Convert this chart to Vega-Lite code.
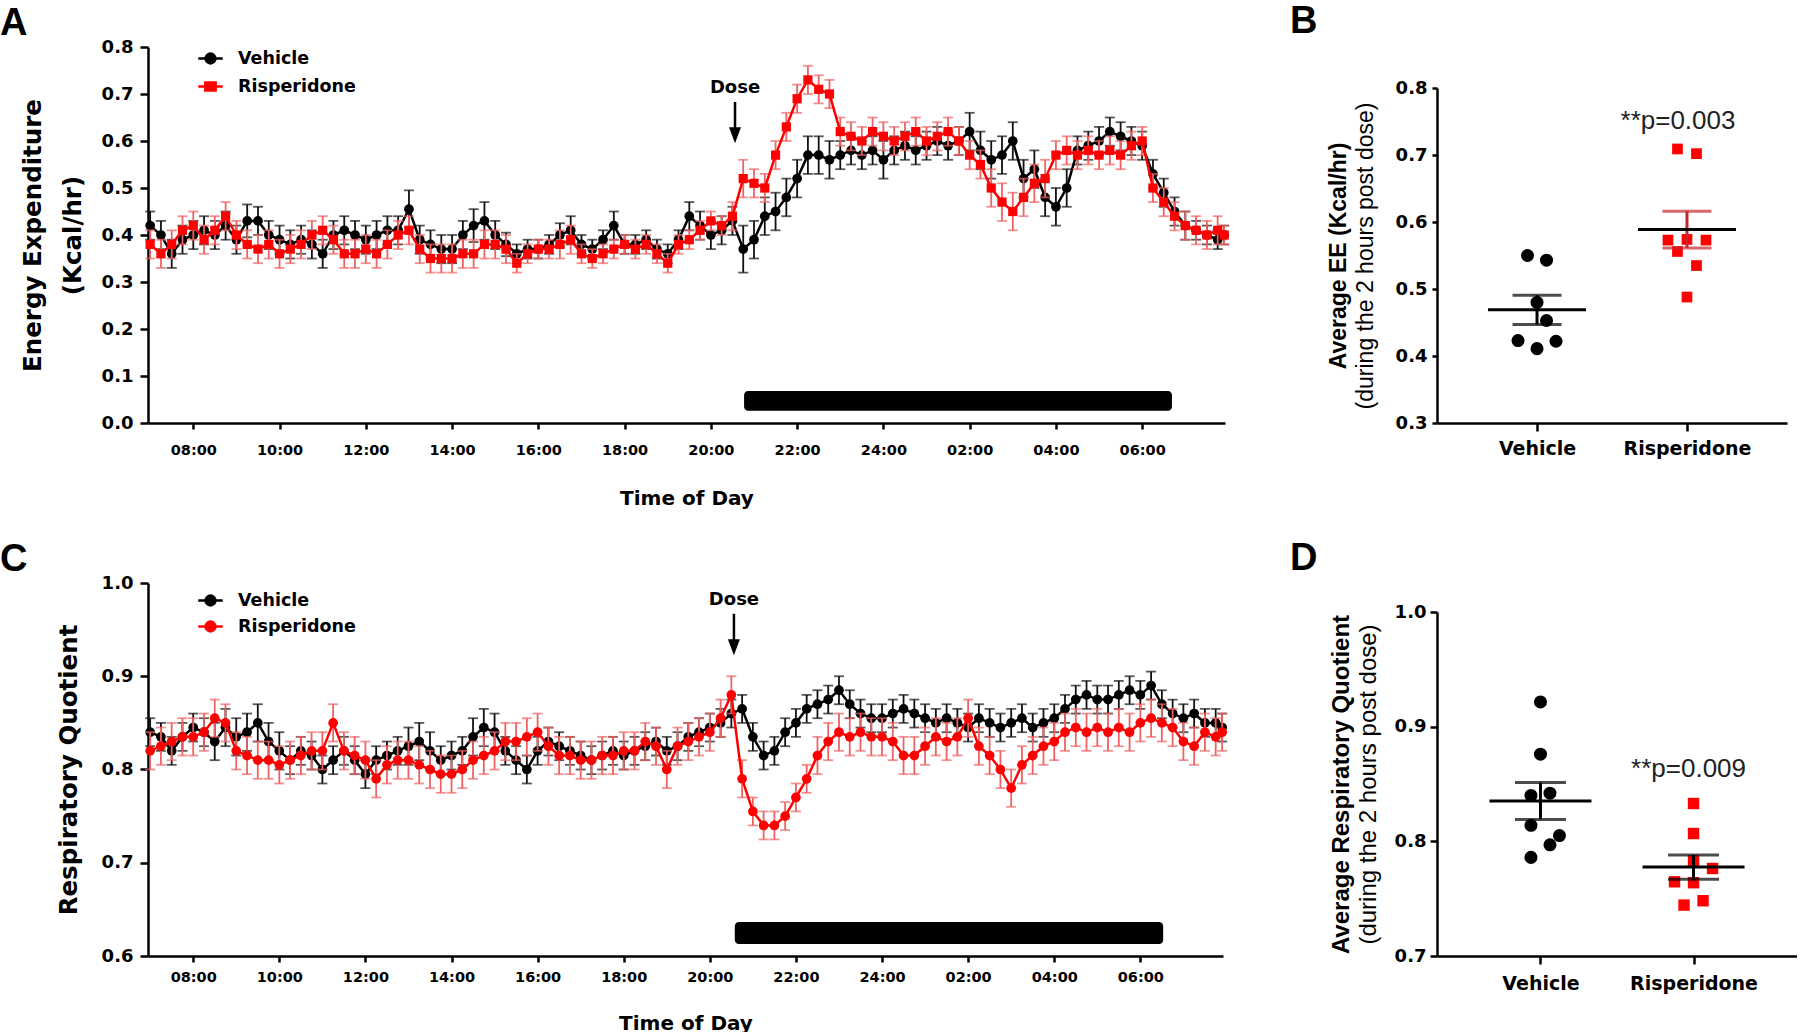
{
"$schema": "https://vega.github.io/schema/vega-lite/v6.json",
"background": "white",
"padding": {"left": 0, "top": 3, "right": 0, "bottom": 0},
"config": {
  "view": {"stroke": null},
  "axis": {"grid": false, "domainColor": "#000", "domainWidth": 2.5, "tickColor": "#000", "tickWidth": 2.5, "labelColor": "#000", "titleColor": "#000", "labelFont": "DejaVu Sans", "labelFontWeight": "bold", "titleFont": "DejaVu Sans", "titleFontWeight": "bold"}
},
"datasets": {
"ee": [
{"t":7,"g":"V","m":0.42,"e":0.03},{"t":7.25,"g":"V","m":0.40,"e":0.03},{"t":7.5,"g":"V","m":0.36,"e":0.03},{"t":7.75,"g":"V","m":0.39,"e":0.03},
{"t":8,"g":"V","m":0.40,"e":0.03},{"t":8.25,"g":"V","m":0.41,"e":0.03},{"t":8.5,"g":"V","m":0.40,"e":0.03},{"t":8.75,"g":"V","m":0.42,"e":0.03},
{"t":9,"g":"V","m":0.39,"e":0.03},{"t":9.25,"g":"V","m":0.43,"e":0.035},{"t":9.5,"g":"V","m":0.43,"e":0.03},{"t":9.75,"g":"V","m":0.40,"e":0.03},
{"t":10,"g":"V","m":0.39,"e":0.03},{"t":10.25,"g":"V","m":0.38,"e":0.03},{"t":10.5,"g":"V","m":0.39,"e":0.03},{"t":10.75,"g":"V","m":0.38,"e":0.03},
{"t":11,"g":"V","m":0.36,"e":0.03},{"t":11.25,"g":"V","m":0.40,"e":0.03},{"t":11.5,"g":"V","m":0.41,"e":0.03},{"t":11.75,"g":"V","m":0.40,"e":0.03},
{"t":12,"g":"V","m":0.39,"e":0.03},{"t":12.25,"g":"V","m":0.40,"e":0.03},{"t":12.5,"g":"V","m":0.41,"e":0.03},{"t":12.75,"g":"V","m":0.41,"e":0.03},
{"t":13,"g":"V","m":0.455,"e":0.04},{"t":13.25,"g":"V","m":0.39,"e":0.03},{"t":13.5,"g":"V","m":0.38,"e":0.03},{"t":13.75,"g":"V","m":0.37,"e":0.03},
{"t":14,"g":"V","m":0.37,"e":0.03},{"t":14.25,"g":"V","m":0.40,"e":0.03},{"t":14.5,"g":"V","m":0.42,"e":0.035},{"t":14.75,"g":"V","m":0.43,"e":0.04},
{"t":15,"g":"V","m":0.40,"e":0.03},{"t":15.25,"g":"V","m":0.38,"e":0.025},{"t":15.5,"g":"V","m":0.36,"e":0.02},{"t":15.75,"g":"V","m":0.37,"e":0.02},
{"t":16,"g":"V","m":0.37,"e":0.02},{"t":16.25,"g":"V","m":0.38,"e":0.02},{"t":16.5,"g":"V","m":0.40,"e":0.025},{"t":16.75,"g":"V","m":0.41,"e":0.03},
{"t":17,"g":"V","m":0.38,"e":0.02},{"t":17.25,"g":"V","m":0.37,"e":0.02},{"t":17.5,"g":"V","m":0.39,"e":0.02},{"t":17.75,"g":"V","m":0.42,"e":0.03},
{"t":18,"g":"V","m":0.38,"e":0.02},{"t":18.25,"g":"V","m":0.38,"e":0.02},{"t":18.5,"g":"V","m":0.39,"e":0.02},{"t":18.75,"g":"V","m":0.37,"e":0.02},
{"t":19,"g":"V","m":0.36,"e":0.02},{"t":19.25,"g":"V","m":0.39,"e":0.02},{"t":19.5,"g":"V","m":0.44,"e":0.03},{"t":19.75,"g":"V","m":0.42,"e":0.03},
{"t":20,"g":"V","m":0.40,"e":0.03},{"t":20.25,"g":"V","m":0.41,"e":0.03},{"t":20.5,"g":"V","m":0.43,"e":0.03},{"t":20.75,"g":"V","m":0.37,"e":0.05},
{"t":21,"g":"V","m":0.39,"e":0.04},{"t":21.25,"g":"V","m":0.44,"e":0.04},{"t":21.5,"g":"V","m":0.45,"e":0.04},{"t":21.75,"g":"V","m":0.48,"e":0.04},
{"t":22,"g":"V","m":0.52,"e":0.04},{"t":22.25,"g":"V","m":0.57,"e":0.04},{"t":22.5,"g":"V","m":0.57,"e":0.04},{"t":22.75,"g":"V","m":0.56,"e":0.04},
{"t":23,"g":"V","m":0.57,"e":0.03},{"t":23.25,"g":"V","m":0.58,"e":0.03},{"t":23.5,"g":"V","m":0.57,"e":0.03},{"t":23.75,"g":"V","m":0.58,"e":0.03},
{"t":24,"g":"V","m":0.56,"e":0.04},{"t":24.25,"g":"V","m":0.58,"e":0.03},{"t":24.5,"g":"V","m":0.59,"e":0.03},{"t":24.75,"g":"V","m":0.58,"e":0.03},
{"t":25,"g":"V","m":0.59,"e":0.03},{"t":25.25,"g":"V","m":0.60,"e":0.03},{"t":25.5,"g":"V","m":0.59,"e":0.03},{"t":25.75,"g":"V","m":0.60,"e":0.03},
{"t":26,"g":"V","m":0.62,"e":0.04},{"t":26.25,"g":"V","m":0.58,"e":0.04},{"t":26.5,"g":"V","m":0.56,"e":0.04},{"t":26.75,"g":"V","m":0.57,"e":0.04},
{"t":27,"g":"V","m":0.60,"e":0.04},{"t":27.25,"g":"V","m":0.52,"e":0.04},{"t":27.5,"g":"V","m":0.54,"e":0.04},{"t":27.75,"g":"V","m":0.48,"e":0.04},
{"t":28,"g":"V","m":0.46,"e":0.04},{"t":28.25,"g":"V","m":0.50,"e":0.04},{"t":28.5,"g":"V","m":0.58,"e":0.03},{"t":28.75,"g":"V","m":0.59,"e":0.03},
{"t":29,"g":"V","m":0.60,"e":0.03},{"t":29.25,"g":"V","m":0.62,"e":0.03},{"t":29.5,"g":"V","m":0.61,"e":0.03},{"t":29.75,"g":"V","m":0.60,"e":0.03},
{"t":30,"g":"V","m":0.59,"e":0.03},{"t":30.25,"g":"V","m":0.53,"e":0.03},{"t":30.5,"g":"V","m":0.49,"e":0.03},{"t":30.75,"g":"V","m":0.45,"e":0.03},
{"t":31,"g":"V","m":0.42,"e":0.03},{"t":31.25,"g":"V","m":0.41,"e":0.02},{"t":31.5,"g":"V","m":0.40,"e":0.02},{"t":31.75,"g":"V","m":0.39,"e":0.02},{"t":31.9,"g":"V","m":0.40,"e":0.02},
{"t":7,"g":"R","m":0.38,"e":0.03},{"t":7.25,"g":"R","m":0.36,"e":0.03},{"t":7.5,"g":"R","m":0.38,"e":0.03},{"t":7.75,"g":"R","m":0.41,"e":0.03},
{"t":8,"g":"R","m":0.42,"e":0.03},{"t":8.25,"g":"R","m":0.39,"e":0.03},{"t":8.5,"g":"R","m":0.41,"e":0.03},{"t":8.75,"g":"R","m":0.44,"e":0.03},
{"t":9,"g":"R","m":0.40,"e":0.03},{"t":9.25,"g":"R","m":0.38,"e":0.03},{"t":9.5,"g":"R","m":0.37,"e":0.03},{"t":9.75,"g":"R","m":0.38,"e":0.03},
{"t":10,"g":"R","m":0.36,"e":0.03},{"t":10.25,"g":"R","m":0.37,"e":0.03},{"t":10.5,"g":"R","m":0.38,"e":0.03},{"t":10.75,"g":"R","m":0.40,"e":0.03},
{"t":11,"g":"R","m":0.41,"e":0.03},{"t":11.25,"g":"R","m":0.39,"e":0.03},{"t":11.5,"g":"R","m":0.36,"e":0.03},{"t":11.75,"g":"R","m":0.36,"e":0.03},
{"t":12,"g":"R","m":0.37,"e":0.03},{"t":12.25,"g":"R","m":0.36,"e":0.03},{"t":12.5,"g":"R","m":0.38,"e":0.03},{"t":12.75,"g":"R","m":0.40,"e":0.03},
{"t":13,"g":"R","m":0.41,"e":0.03},{"t":13.25,"g":"R","m":0.37,"e":0.03},{"t":13.5,"g":"R","m":0.35,"e":0.03},{"t":13.75,"g":"R","m":0.35,"e":0.03},
{"t":14,"g":"R","m":0.35,"e":0.03},{"t":14.25,"g":"R","m":0.36,"e":0.03},{"t":14.5,"g":"R","m":0.36,"e":0.03},{"t":14.75,"g":"R","m":0.38,"e":0.03},
{"t":15,"g":"R","m":0.38,"e":0.03},{"t":15.25,"g":"R","m":0.37,"e":0.03},{"t":15.5,"g":"R","m":0.34,"e":0.02},{"t":15.75,"g":"R","m":0.36,"e":0.02},
{"t":16,"g":"R","m":0.37,"e":0.02},{"t":16.25,"g":"R","m":0.37,"e":0.02},{"t":16.5,"g":"R","m":0.38,"e":0.03},{"t":16.75,"g":"R","m":0.39,"e":0.03},
{"t":17,"g":"R","m":0.36,"e":0.02},{"t":17.25,"g":"R","m":0.35,"e":0.02},{"t":17.5,"g":"R","m":0.36,"e":0.02},{"t":17.75,"g":"R","m":0.37,"e":0.02},
{"t":18,"g":"R","m":0.38,"e":0.02},{"t":18.25,"g":"R","m":0.37,"e":0.02},{"t":18.5,"g":"R","m":0.38,"e":0.02},{"t":18.75,"g":"R","m":0.36,"e":0.02},
{"t":19,"g":"R","m":0.34,"e":0.02},{"t":19.25,"g":"R","m":0.38,"e":0.02},{"t":19.5,"g":"R","m":0.39,"e":0.02},{"t":19.75,"g":"R","m":0.41,"e":0.02},
{"t":20,"g":"R","m":0.43,"e":0.02},{"t":20.25,"g":"R","m":0.42,"e":0.02},{"t":20.5,"g":"R","m":0.44,"e":0.03},{"t":20.75,"g":"R","m":0.52,"e":0.04},
{"t":21,"g":"R","m":0.51,"e":0.03},{"t":21.25,"g":"R","m":0.50,"e":0.03},{"t":21.5,"g":"R","m":0.57,"e":0.03},{"t":21.75,"g":"R","m":0.63,"e":0.03},
{"t":22,"g":"R","m":0.69,"e":0.03},{"t":22.25,"g":"R","m":0.73,"e":0.03},{"t":22.5,"g":"R","m":0.71,"e":0.03},{"t":22.75,"g":"R","m":0.70,"e":0.03},
{"t":23,"g":"R","m":0.62,"e":0.03},{"t":23.25,"g":"R","m":0.61,"e":0.03},{"t":23.5,"g":"R","m":0.60,"e":0.03},{"t":23.75,"g":"R","m":0.62,"e":0.03},
{"t":24,"g":"R","m":0.61,"e":0.03},{"t":24.25,"g":"R","m":0.60,"e":0.03},{"t":24.5,"g":"R","m":0.61,"e":0.03},{"t":24.75,"g":"R","m":0.62,"e":0.03},
{"t":25,"g":"R","m":0.60,"e":0.03},{"t":25.25,"g":"R","m":0.61,"e":0.03},{"t":25.5,"g":"R","m":0.62,"e":0.03},{"t":25.75,"g":"R","m":0.60,"e":0.03},
{"t":26,"g":"R","m":0.57,"e":0.03},{"t":26.25,"g":"R","m":0.55,"e":0.03},{"t":26.5,"g":"R","m":0.50,"e":0.04},{"t":26.75,"g":"R","m":0.47,"e":0.04},
{"t":27,"g":"R","m":0.45,"e":0.04},{"t":27.25,"g":"R","m":0.48,"e":0.04},{"t":27.5,"g":"R","m":0.51,"e":0.04},{"t":27.75,"g":"R","m":0.52,"e":0.04},
{"t":28,"g":"R","m":0.57,"e":0.03},{"t":28.25,"g":"R","m":0.58,"e":0.03},{"t":28.5,"g":"R","m":0.57,"e":0.03},{"t":28.75,"g":"R","m":0.58,"e":0.03},
{"t":29,"g":"R","m":0.57,"e":0.03},{"t":29.25,"g":"R","m":0.58,"e":0.03},{"t":29.5,"g":"R","m":0.57,"e":0.03},{"t":29.75,"g":"R","m":0.59,"e":0.03},
{"t":30,"g":"R","m":0.60,"e":0.03},{"t":30.25,"g":"R","m":0.50,"e":0.03},{"t":30.5,"g":"R","m":0.47,"e":0.03},{"t":30.75,"g":"R","m":0.44,"e":0.03},
{"t":31,"g":"R","m":0.42,"e":0.03},{"t":31.25,"g":"R","m":0.41,"e":0.03},{"t":31.5,"g":"R","m":0.40,"e":0.03},{"t":31.75,"g":"R","m":0.41,"e":0.03},{"t":31.9,"g":"R","m":0.40,"e":0.02}
],
"rq": [
{"t":7,"g":"V","m":0.84,"e":0.015},{"t":7.25,"g":"V","m":0.835,"e":0.015},{"t":7.5,"g":"V","m":0.82,"e":0.015},{"t":7.75,"g":"V","m":0.835,"e":0.015},
{"t":8,"g":"V","m":0.845,"e":0.015},{"t":8.25,"g":"V","m":0.84,"e":0.015},{"t":8.5,"g":"V","m":0.83,"e":0.02},{"t":8.75,"g":"V","m":0.845,"e":0.02},
{"t":9,"g":"V","m":0.835,"e":0.02},{"t":9.25,"g":"V","m":0.84,"e":0.02},{"t":9.5,"g":"V","m":0.85,"e":0.02},{"t":9.75,"g":"V","m":0.83,"e":0.02},
{"t":10,"g":"V","m":0.82,"e":0.02},{"t":10.25,"g":"V","m":0.81,"e":0.015},{"t":10.5,"g":"V","m":0.82,"e":0.015},{"t":10.75,"g":"V","m":0.815,"e":0.015},
{"t":11,"g":"V","m":0.80,"e":0.015},{"t":11.25,"g":"V","m":0.81,"e":0.015},{"t":11.5,"g":"V","m":0.82,"e":0.015},{"t":11.75,"g":"V","m":0.81,"e":0.015},
{"t":12,"g":"V","m":0.795,"e":0.015},{"t":12.25,"g":"V","m":0.81,"e":0.015},{"t":12.5,"g":"V","m":0.815,"e":0.015},{"t":12.75,"g":"V","m":0.82,"e":0.015},
{"t":13,"g":"V","m":0.825,"e":0.02},{"t":13.25,"g":"V","m":0.83,"e":0.02},{"t":13.5,"g":"V","m":0.82,"e":0.02},{"t":13.75,"g":"V","m":0.81,"e":0.015},
{"t":14,"g":"V","m":0.815,"e":0.015},{"t":14.25,"g":"V","m":0.82,"e":0.015},{"t":14.5,"g":"V","m":0.835,"e":0.02},{"t":14.75,"g":"V","m":0.845,"e":0.02},
{"t":15,"g":"V","m":0.84,"e":0.02},{"t":15.25,"g":"V","m":0.82,"e":0.015},{"t":15.5,"g":"V","m":0.81,"e":0.015},{"t":15.75,"g":"V","m":0.80,"e":0.015},
{"t":16,"g":"V","m":0.82,"e":0.015},{"t":16.25,"g":"V","m":0.83,"e":0.015},{"t":16.5,"g":"V","m":0.825,"e":0.015},{"t":16.75,"g":"V","m":0.82,"e":0.015},
{"t":17,"g":"V","m":0.815,"e":0.015},{"t":17.25,"g":"V","m":0.81,"e":0.015},{"t":17.5,"g":"V","m":0.815,"e":0.015},{"t":17.75,"g":"V","m":0.82,"e":0.015},
{"t":18,"g":"V","m":0.815,"e":0.015},{"t":18.25,"g":"V","m":0.82,"e":0.015},{"t":18.5,"g":"V","m":0.825,"e":0.015},{"t":18.75,"g":"V","m":0.83,"e":0.015},
{"t":19,"g":"V","m":0.82,"e":0.015},{"t":19.25,"g":"V","m":0.825,"e":0.015},{"t":19.5,"g":"V","m":0.835,"e":0.015},{"t":19.75,"g":"V","m":0.84,"e":0.015},
{"t":20,"g":"V","m":0.845,"e":0.015},{"t":20.25,"g":"V","m":0.85,"e":0.015},{"t":20.5,"g":"V","m":0.86,"e":0.015},{"t":20.75,"g":"V","m":0.865,"e":0.015},
{"t":21,"g":"V","m":0.835,"e":0.015},{"t":21.25,"g":"V","m":0.815,"e":0.015},{"t":21.5,"g":"V","m":0.82,"e":0.015},{"t":21.75,"g":"V","m":0.84,"e":0.015},
{"t":22,"g":"V","m":0.85,"e":0.015},{"t":22.25,"g":"V","m":0.865,"e":0.015},{"t":22.5,"g":"V","m":0.87,"e":0.015},{"t":22.75,"g":"V","m":0.875,"e":0.015},
{"t":23,"g":"V","m":0.885,"e":0.015},{"t":23.25,"g":"V","m":0.87,"e":0.015},{"t":23.5,"g":"V","m":0.86,"e":0.015},{"t":23.75,"g":"V","m":0.855,"e":0.015},
{"t":24,"g":"V","m":0.855,"e":0.015},{"t":24.25,"g":"V","m":0.86,"e":0.015},{"t":24.5,"g":"V","m":0.865,"e":0.015},{"t":24.75,"g":"V","m":0.86,"e":0.015},
{"t":25,"g":"V","m":0.855,"e":0.015},{"t":25.25,"g":"V","m":0.85,"e":0.015},{"t":25.5,"g":"V","m":0.855,"e":0.015},{"t":25.75,"g":"V","m":0.85,"e":0.015},
{"t":26,"g":"V","m":0.845,"e":0.015},{"t":26.25,"g":"V","m":0.855,"e":0.015},{"t":26.5,"g":"V","m":0.85,"e":0.015},{"t":26.75,"g":"V","m":0.845,"e":0.015},
{"t":27,"g":"V","m":0.85,"e":0.015},{"t":27.25,"g":"V","m":0.855,"e":0.015},{"t":27.5,"g":"V","m":0.845,"e":0.015},{"t":27.75,"g":"V","m":0.85,"e":0.015},
{"t":28,"g":"V","m":0.855,"e":0.015},{"t":28.25,"g":"V","m":0.865,"e":0.015},{"t":28.5,"g":"V","m":0.875,"e":0.015},{"t":28.75,"g":"V","m":0.88,"e":0.015},
{"t":29,"g":"V","m":0.875,"e":0.015},{"t":29.25,"g":"V","m":0.875,"e":0.015},{"t":29.5,"g":"V","m":0.88,"e":0.015},{"t":29.75,"g":"V","m":0.885,"e":0.015},
{"t":30,"g":"V","m":0.88,"e":0.015},{"t":30.25,"g":"V","m":0.89,"e":0.015},{"t":30.5,"g":"V","m":0.87,"e":0.015},{"t":30.75,"g":"V","m":0.86,"e":0.015},
{"t":31,"g":"V","m":0.855,"e":0.015},{"t":31.25,"g":"V","m":0.86,"e":0.015},{"t":31.5,"g":"V","m":0.85,"e":0.015},{"t":31.75,"g":"V","m":0.85,"e":0.015},{"t":31.9,"g":"V","m":0.845,"e":0.015},
{"t":7,"g":"R","m":0.82,"e":0.02},{"t":7.25,"g":"R","m":0.825,"e":0.02},{"t":7.5,"g":"R","m":0.83,"e":0.02},{"t":7.75,"g":"R","m":0.835,"e":0.02},
{"t":8,"g":"R","m":0.835,"e":0.02},{"t":8.25,"g":"R","m":0.84,"e":0.02},{"t":8.5,"g":"R","m":0.855,"e":0.02},{"t":8.75,"g":"R","m":0.85,"e":0.02},
{"t":9,"g":"R","m":0.82,"e":0.02},{"t":9.25,"g":"R","m":0.815,"e":0.02},{"t":9.5,"g":"R","m":0.81,"e":0.02},{"t":9.75,"g":"R","m":0.81,"e":0.02},
{"t":10,"g":"R","m":0.805,"e":0.02},{"t":10.25,"g":"R","m":0.81,"e":0.02},{"t":10.5,"g":"R","m":0.815,"e":0.02},{"t":10.75,"g":"R","m":0.82,"e":0.02},
{"t":11,"g":"R","m":0.82,"e":0.02},{"t":11.25,"g":"R","m":0.85,"e":0.02},{"t":11.5,"g":"R","m":0.82,"e":0.02},{"t":11.75,"g":"R","m":0.815,"e":0.02},
{"t":12,"g":"R","m":0.81,"e":0.02},{"t":12.25,"g":"R","m":0.79,"e":0.02},{"t":12.5,"g":"R","m":0.805,"e":0.02},{"t":12.75,"g":"R","m":0.81,"e":0.02},
{"t":13,"g":"R","m":0.81,"e":0.02},{"t":13.25,"g":"R","m":0.805,"e":0.02},{"t":13.5,"g":"R","m":0.80,"e":0.02},{"t":13.75,"g":"R","m":0.795,"e":0.02},
{"t":14,"g":"R","m":0.795,"e":0.02},{"t":14.25,"g":"R","m":0.80,"e":0.02},{"t":14.5,"g":"R","m":0.81,"e":0.02},{"t":14.75,"g":"R","m":0.815,"e":0.02},
{"t":15,"g":"R","m":0.82,"e":0.02},{"t":15.25,"g":"R","m":0.83,"e":0.02},{"t":15.5,"g":"R","m":0.83,"e":0.02},{"t":15.75,"g":"R","m":0.835,"e":0.02},
{"t":16,"g":"R","m":0.84,"e":0.02},{"t":16.25,"g":"R","m":0.825,"e":0.02},{"t":16.5,"g":"R","m":0.815,"e":0.02},{"t":16.75,"g":"R","m":0.815,"e":0.02},
{"t":17,"g":"R","m":0.81,"e":0.02},{"t":17.25,"g":"R","m":0.81,"e":0.02},{"t":17.5,"g":"R","m":0.815,"e":0.02},{"t":17.75,"g":"R","m":0.815,"e":0.02},
{"t":18,"g":"R","m":0.82,"e":0.02},{"t":18.25,"g":"R","m":0.82,"e":0.02},{"t":18.5,"g":"R","m":0.83,"e":0.02},{"t":18.75,"g":"R","m":0.825,"e":0.02},
{"t":19,"g":"R","m":0.80,"e":0.02},{"t":19.25,"g":"R","m":0.825,"e":0.02},{"t":19.5,"g":"R","m":0.83,"e":0.02},{"t":19.75,"g":"R","m":0.835,"e":0.02},
{"t":20,"g":"R","m":0.84,"e":0.02},{"t":20.25,"g":"R","m":0.855,"e":0.02},{"t":20.5,"g":"R","m":0.88,"e":0.02},{"t":20.75,"g":"R","m":0.79,"e":0.02},
{"t":21,"g":"R","m":0.755,"e":0.015},{"t":21.25,"g":"R","m":0.74,"e":0.015},{"t":21.5,"g":"R","m":0.74,"e":0.015},{"t":21.75,"g":"R","m":0.75,"e":0.015},
{"t":22,"g":"R","m":0.77,"e":0.015},{"t":22.25,"g":"R","m":0.79,"e":0.015},{"t":22.5,"g":"R","m":0.815,"e":0.02},{"t":22.75,"g":"R","m":0.83,"e":0.02},
{"t":23,"g":"R","m":0.84,"e":0.02},{"t":23.25,"g":"R","m":0.835,"e":0.02},{"t":23.5,"g":"R","m":0.84,"e":0.02},{"t":23.75,"g":"R","m":0.835,"e":0.02},
{"t":24,"g":"R","m":0.835,"e":0.02},{"t":24.25,"g":"R","m":0.83,"e":0.02},{"t":24.5,"g":"R","m":0.815,"e":0.02},{"t":24.75,"g":"R","m":0.815,"e":0.02},
{"t":25,"g":"R","m":0.825,"e":0.02},{"t":25.25,"g":"R","m":0.835,"e":0.02},{"t":25.5,"g":"R","m":0.83,"e":0.02},{"t":25.75,"g":"R","m":0.835,"e":0.02},
{"t":26,"g":"R","m":0.855,"e":0.02},{"t":26.25,"g":"R","m":0.825,"e":0.02},{"t":26.5,"g":"R","m":0.815,"e":0.02},{"t":26.75,"g":"R","m":0.80,"e":0.02},
{"t":27,"g":"R","m":0.78,"e":0.02},{"t":27.25,"g":"R","m":0.805,"e":0.02},{"t":27.5,"g":"R","m":0.815,"e":0.02},{"t":27.75,"g":"R","m":0.825,"e":0.02},
{"t":28,"g":"R","m":0.83,"e":0.02},{"t":28.25,"g":"R","m":0.84,"e":0.02},{"t":28.5,"g":"R","m":0.845,"e":0.02},{"t":28.75,"g":"R","m":0.84,"e":0.02},
{"t":29,"g":"R","m":0.845,"e":0.02},{"t":29.25,"g":"R","m":0.84,"e":0.02},{"t":29.5,"g":"R","m":0.845,"e":0.02},{"t":29.75,"g":"R","m":0.84,"e":0.02},
{"t":30,"g":"R","m":0.85,"e":0.02},{"t":30.25,"g":"R","m":0.855,"e":0.02},{"t":30.5,"g":"R","m":0.85,"e":0.02},{"t":30.75,"g":"R","m":0.845,"e":0.02},
{"t":31,"g":"R","m":0.83,"e":0.02},{"t":31.25,"g":"R","m":0.825,"e":0.02},{"t":31.5,"g":"R","m":0.84,"e":0.02},{"t":31.75,"g":"R","m":0.835,"e":0.02},{"t":31.9,"g":"R","m":0.84,"e":0.02}
],
"eeAvg": [
{"g":"Vehicle","v":0.550,"lane":"b"},{"g":"Vehicle","v":0.543,"lane":"d"},{"g":"Vehicle","v":0.480,"lane":"c"},{"g":"Vehicle","v":0.453,"lane":"d"},
{"g":"Vehicle","v":0.423,"lane":"a"},{"g":"Vehicle","v":0.422,"lane":"e"},{"g":"Vehicle","v":0.411,"lane":"c"},
{"g":"Risperidone","v":0.709,"lane":"b"},{"g":"Risperidone","v":0.702,"lane":"d"},{"g":"Risperidone","v":0.573,"lane":"a"},{"g":"Risperidone","v":0.574,"lane":"c"},
{"g":"Risperidone","v":0.573,"lane":"e"},{"g":"Risperidone","v":0.556,"lane":"b"},{"g":"Risperidone","v":0.535,"lane":"d"},{"g":"Risperidone","v":0.488,"lane":"c"}
],
"rqAvg": [
{"g":"Vehicle","v":0.9216,"lane":"c"},{"g":"Vehicle","v":0.876,"lane":"c"},{"g":"Vehicle","v":0.840,"lane":"b"},{"g":"Vehicle","v":0.842,"lane":"d"},
{"g":"Vehicle","v":0.814,"lane":"b"},{"g":"Vehicle","v":0.805,"lane":"e"},{"g":"Vehicle","v":0.797,"lane":"d"},{"g":"Vehicle","v":0.786,"lane":"b"},
{"g":"Risperidone","v":0.833,"lane":"c"},{"g":"Risperidone","v":0.8068,"lane":"c"},{"g":"Risperidone","v":0.783,"lane":"c"},{"g":"Risperidone","v":0.7763,"lane":"e"},
{"g":"Risperidone","v":0.7647,"lane":"a"},{"g":"Risperidone","v":0.7639,"lane":"c"},{"g":"Risperidone","v":0.7444,"lane":"b"},{"g":"Risperidone","v":0.7482,"lane":"d"}
]
},
"columns": 2,
"spacing": {"row": 160, "column": 212},
"bounds": "flush",
"align": "each",
"resolve": {"scale": {"color": "independent", "shape": "independent", "stroke": "independent", "size": "independent", "x": "independent", "y": "independent", "xOffset": "independent"}, "legend": {"color": "independent", "shape": "independent", "stroke": "independent", "size": "independent"}},
"concat": [
{
"width": 1077, "height": 376,
"title": {"text": "A", "anchor": "start", "frame": "group", "dx": -148, "offset": -35, "baseline": "alphabetic", "fontSize": 38, "font": "Liberation Sans", "fontWeight": "bold", "color": "#000"},
"data": {"name": "ee"},
"encoding": {
  "x": {"field": "t", "type": "quantitative", "scale": {"domain": [6.95, 31.92], "nice": false, "zero": false},
        "axis": {"values": [8,10,12,14,16,18,20,22,24,26,28,30], "labelExpr": "datum.value == 24 ? '24:00' : ((datum.value % 24) < 10 ? '0' : '') + (datum.value % 24) + ':00'", "labelFontSize": 14.5, "tickSize": 6, "labelPadding": 14, "title": "Time of Day", "titleFontSize": 20, "titlePadding": 32}},
  "y": {"field": "m", "type": "quantitative", "scale": {"domain": [0, 0.8], "nice": false, "zero": false},
        "axis": {"values": [0,0.1,0.2,0.3,0.4,0.5,0.6,0.7,0.8], "format": ".1f", "labelFontSize": 18, "tickSize": 8, "labelPadding": 7, "title": ["Energy Expenditure", "(Kcal/hr)"], "titleFontSize": 24.5, "titleLineHeight": 40, "titlePadding": 16}}
},
"layer": [
  {"data": {"values": [{"t": 20.77, "t2": 30.69, "m": 0.026, "m2": 0.068}]}, "mark": {"type": "rect", "color": "#000", "cornerRadius": 4}, "encoding": {"x2": {"field": "t2"}, "y2": {"field": "m2"}}},
  {"transform": [{"filter": "datum.g == 'V'"}], "mark": {"type": "errorbar", "ticks": {"size": 10}, "color": "#111", "thickness": 1.8}, "encoding": {"yError": {"field": "e"}}},
  {"transform": [{"filter": "datum.g == 'V'"}], "mark": {"type": "line", "color": "#000", "strokeWidth": 2.5}},
  {"transform": [{"filter": "datum.g == 'V'"}], "mark": {"type": "point", "shape": "circle", "filled": true, "size": 95, "color": "#000", "opacity": 1}},
  {"transform": [{"filter": "datum.g == 'R'"}], "mark": {"type": "errorbar", "ticks": {"size": 10}, "color": "#f06262", "thickness": 1.8}, "encoding": {"yError": {"field": "e"}}},
  {"transform": [{"filter": "datum.g == 'R'"}], "mark": {"type": "line", "color": "#ff0000", "strokeWidth": 2.5}},
  {"transform": [{"filter": "datum.g == 'R'"}], "mark": {"type": "point", "shape": "square", "filled": true, "size": 85, "color": "#ff0000", "opacity": 1}},
  {"transform": [{"filter": "datum.t < 0"}], "mark": {"type": "point", "filled": true, "size": 600, "strokeWidth": 2.5, "opacity": 1},
   "encoding": {
     "color": {"field": "g", "type": "nominal", "scale": {"domain": ["V", "R"], "range": ["#000000", "#ff0000"]}, "legend": {"title": null, "orient": "none", "legendX": 49, "legendY": -2, "padding": 0, "labelExpr": "datum.value == 'V' ? 'Vehicle' : 'Risperidone'", "labelFont": "DejaVu Sans", "labelFontSize": 17.5, "labelFontWeight": "bold", "labelColor": "#000", "symbolSize": 600, "symbolStrokeWidth": 2.5, "labelOffset": 14, "rowPadding": 4}},
     "stroke": {"field": "g", "type": "nominal", "scale": {"domain": ["V", "R"], "range": ["#000000", "#ff0000"]}, "legend": {"title": null, "orient": "none", "legendX": 49, "legendY": -2, "padding": 0, "labelExpr": "datum.value == 'V' ? 'Vehicle' : 'Risperidone'", "labelFont": "DejaVu Sans", "labelFontSize": 17.5, "labelFontWeight": "bold", "labelColor": "#000", "symbolSize": 600, "symbolStrokeWidth": 2.5, "labelOffset": 14, "rowPadding": 4}},
     "shape": {"field": "g", "type": "nominal", "scale": {"domain": ["V", "R"], "range": ["M-1,0L1,0M-0.4,0A0.4,0.4,0,1,1,0.4,0A0.4,0.4,0,1,1,-0.4,0Z", "M-1,0L1,0M-0.42,-0.32L0.42,-0.32L0.42,0.32L-0.42,0.32Z"]}, "legend": {"title": null, "orient": "none", "legendX": 49, "legendY": -2, "padding": 0, "labelExpr": "datum.value == 'V' ? 'Vehicle' : 'Risperidone'", "labelFont": "DejaVu Sans", "labelFontSize": 17.5, "labelFontWeight": "bold", "labelColor": "#000", "symbolSize": 600, "symbolStrokeWidth": 2.5, "labelOffset": 14, "rowPadding": 4}}
   }},
  {"data": {"values": [{"t": 20.56, "m": 0.712}]}, "mark": {"type": "text", "text": "Dose", "font": "DejaVu Sans", "fontWeight": "bold", "fontSize": 18, "color": "#000"}},
  {"data": {"values": [{"t": 20.56, "m": 0.683, "m2": 0.62}]}, "mark": {"type": "rule", "strokeWidth": 2.5, "color": "#000"}, "encoding": {"y2": {"field": "m2"}}},
  {"data": {"values": [{"t": 20.56, "m": 0.612}]}, "mark": {"type": "point", "shape": "M-0.75,-1L0.75,-1L0,1Z", "filled": true, "size": 256, "color": "#000", "opacity": 1}}
]
},
{
"width": 350, "height": 376,
"title": {"text": "B", "anchor": "start", "frame": "group", "dx": -147, "offset": -24, "baseline": "alphabetic", "fontSize": 38, "font": "Liberation Sans", "fontWeight": "bold", "color": "#000"},
"data": {"name": "eeAvg"},
"encoding": {
  "x": {"field": "g", "type": "nominal", "sort": null, "scale": {"type": "point", "domain": ["Vehicle", "Risperidone"], "padding": 0.667}, "axis": {"title": null, "labelAngle": 0, "labelFontSize": 19, "tickSize": 8, "labelPadding": 8}}
},
"layer": [
  {"mark": {"type": "point", "filled": true, "opacity": 1},
   "encoding": {
     "y": {"field": "v", "type": "quantitative", "scale": {"domain": [0.3, 0.8], "nice": false, "zero": false, "rangeMax": 41},
           "axis": {"values": [0.3,0.4,0.5,0.6,0.7,0.8], "format": ".1f", "labelFontSize": 18, "tickSize": 5, "labelPadding": 5, "title": "(during the 2 hours post dose)", "titleFont": "Liberation Sans", "titleFontWeight": "normal", "titleFontSize": 23, "titlePadding": 18}},
     "xOffset": {"field": "lane", "type": "nominal", "scale": {"type": "point", "domain": ["a","b","c","d","e"], "range": [-19, 19], "padding": 0}},
     "color": {"field": "g", "type": "nominal", "scale": {"domain": ["Vehicle", "Risperidone"], "range": ["#000000", "#ff0000"]}, "legend": null},
     "shape": {"field": "g", "type": "nominal", "scale": {"domain": ["Vehicle", "Risperidone"], "range": ["circle", "square"]}, "legend": null},
     "size": {"field": "g", "type": "ordinal", "scale": {"domain": ["Vehicle", "Risperidone"], "range": [170, 115]}, "legend": null}
   }},
  {"transform": [{"filter": "datum.g == 'Vehicle'"}], "mark": {"type": "errorbar", "extent": "stderr", "thickness": 3, "color": "#000", "ticks": {"size": 49}}, "encoding": {"y": {"field": "v", "type": "quantitative", "axis": null}}},
  {"transform": [{"filter": "datum.g == 'Risperidone'"}], "mark": {"type": "errorbar", "extent": "stderr", "thickness": 3, "color": "#c4262e", "ticks": {"size": 49}}, "encoding": {"y": {"field": "v", "type": "quantitative", "axis": null}}},
  {"mark": {"type": "tick", "size": 98, "thickness": 3, "color": "#000"}, "encoding": {"y": {"aggregate": "mean", "field": "v", "type": "quantitative", "axis": null}}},
  {"data": {"values": [{"g": "Risperidone", "label": "**p=0.003"}]}, "mark": {"type": "text", "font": "Liberation Sans", "fontSize": 26, "color": "#222", "dx": -9}, "encoding": {"y": {"datum": 0.751, "axis": null}, "text": {"field": "label"}}},
  {"mark": {"type": "tick", "opacity": 0}, "encoding": {"y": {"field": "v", "type": "quantitative", "axis": {"orient": "left", "title": "Average EE (Kcal/hr)", "labels": false, "ticks": false, "domain": false, "titleFont": "Liberation Sans", "titleFontWeight": "bold", "titleFontSize": 23, "titlePadding": 87}}}}
],
"resolve": {"axis": {"y": "independent"}}
},
{
"width": 1075, "height": 373,
"title": {"text": "C", "anchor": "start", "frame": "group", "dx": -148, "offset": -35, "baseline": "alphabetic", "fontSize": 38, "font": "Liberation Sans", "fontWeight": "bold", "color": "#000"},
"data": {"name": "rq"},
"encoding": {
  "x": {"field": "t", "type": "quantitative", "scale": {"domain": [6.95, 31.92], "nice": false, "zero": false},
        "axis": {"values": [8,10,12,14,16,18,20,22,24,26,28,30], "labelExpr": "datum.value == 24 ? '24:00' : ((datum.value % 24) < 10 ? '0' : '') + (datum.value % 24) + ':00'", "labelFontSize": 14.5, "tickSize": 6, "labelPadding": 8, "title": "Time of Day", "titleFontSize": 20, "titlePadding": 30}},
  "y": {"field": "m", "type": "quantitative", "scale": {"domain": [0.6, 1.0], "nice": false, "zero": false},
        "axis": {"values": [0.6,0.7,0.8,0.9,1.0], "format": ".1f", "labelFontSize": 18, "tickSize": 8, "labelPadding": 7, "title": "Respiratory Quotient", "titleFontSize": 24.5, "titlePadding": 20}}
},
"layer": [
  {"data": {"values": [{"t": 20.58, "t2": 30.53, "m": 0.613, "m2": 0.6365}]}, "mark": {"type": "rect", "color": "#000", "cornerRadius": 4}, "encoding": {"x2": {"field": "t2"}, "y2": {"field": "m2"}}},
  {"transform": [{"filter": "datum.g == 'V'"}], "mark": {"type": "errorbar", "ticks": {"size": 10}, "color": "#111", "thickness": 1.8}, "encoding": {"yError": {"field": "e"}}},
  {"transform": [{"filter": "datum.g == 'V'"}], "mark": {"type": "line", "color": "#000", "strokeWidth": 2.5}},
  {"transform": [{"filter": "datum.g == 'V'"}], "mark": {"type": "point", "shape": "circle", "filled": true, "size": 95, "color": "#000", "opacity": 1}},
  {"transform": [{"filter": "datum.g == 'R'"}], "mark": {"type": "errorbar", "ticks": {"size": 10}, "color": "#f06262", "thickness": 1.8}, "encoding": {"yError": {"field": "e"}}},
  {"transform": [{"filter": "datum.g == 'R'"}], "mark": {"type": "line", "color": "#ff0000", "strokeWidth": 2.5}},
  {"transform": [{"filter": "datum.g == 'R'"}], "mark": {"type": "point", "shape": "circle", "filled": true, "size": 95, "color": "#ff0000", "opacity": 1}},
  {"transform": [{"filter": "datum.t < 0"}], "mark": {"type": "point", "filled": true, "size": 600, "strokeWidth": 2.5, "opacity": 1},
   "encoding": {
     "color": {"field": "g", "type": "nominal", "scale": {"domain": ["V", "R"], "range": ["#000000", "#ff0000"]}, "legend": {"title": null, "orient": "none", "legendX": 49, "legendY": 4, "padding": 0, "labelExpr": "datum.value == 'V' ? 'Vehicle' : 'Risperidone'", "labelFont": "DejaVu Sans", "labelFontSize": 17.5, "labelFontWeight": "bold", "labelColor": "#000", "symbolSize": 600, "symbolStrokeWidth": 2.5, "labelOffset": 14, "rowPadding": 2}},
     "stroke": {"field": "g", "type": "nominal", "scale": {"domain": ["V", "R"], "range": ["#000000", "#ff0000"]}, "legend": {"title": null, "orient": "none", "legendX": 49, "legendY": 4, "padding": 0, "labelExpr": "datum.value == 'V' ? 'Vehicle' : 'Risperidone'", "labelFont": "DejaVu Sans", "labelFontSize": 17.5, "labelFontWeight": "bold", "labelColor": "#000", "symbolSize": 600, "symbolStrokeWidth": 2.5, "labelOffset": 14, "rowPadding": 2}},
     "shape": {"field": "g", "type": "nominal", "scale": {"domain": ["V", "R"], "range": ["M-1,0L1,0M-0.4,0A0.4,0.4,0,1,1,0.4,0A0.4,0.4,0,1,1,-0.4,0Z", "M-1,0L1,0M-0.4,0A0.4,0.4,0,1,1,0.4,0A0.4,0.4,0,1,1,-0.4,0Z"]}, "legend": {"title": null, "orient": "none", "legendX": 49, "legendY": 4, "padding": 0, "labelExpr": "datum.value == 'V' ? 'Vehicle' : 'Risperidone'", "labelFont": "DejaVu Sans", "labelFontSize": 17.5, "labelFontWeight": "bold", "labelColor": "#000", "symbolSize": 600, "symbolStrokeWidth": 2.5, "labelOffset": 14, "rowPadding": 2}}
   }},
  {"data": {"values": [{"t": 20.56, "m": 0.982}]}, "mark": {"type": "text", "text": "Dose", "font": "DejaVu Sans", "fontWeight": "bold", "fontSize": 18, "color": "#000"}},
  {"data": {"values": [{"t": 20.56, "m": 0.967, "m2": 0.935}]}, "mark": {"type": "rule", "strokeWidth": 2.5, "color": "#000"}, "encoding": {"y2": {"field": "m2"}}},
  {"data": {"values": [{"t": 20.56, "m": 0.931}]}, "mark": {"type": "point", "shape": "M-0.75,-1L0.75,-1L0,1Z", "filled": true, "size": 256, "color": "#000", "opacity": 1}}
]
},
{
"width": 360, "height": 373,
"title": {"text": "D", "anchor": "start", "frame": "group", "dx": -147, "offset": -25, "baseline": "alphabetic", "fontSize": 38, "font": "Liberation Sans", "fontWeight": "bold", "color": "#000"},
"data": {"name": "rqAvg"},
"encoding": {
  "x": {"field": "g", "type": "nominal", "sort": null, "scale": {"type": "point", "domain": ["Vehicle", "Risperidone"], "padding": 0.676}, "axis": {"title": null, "labelAngle": 0, "labelFontSize": 19, "tickSize": 8, "labelPadding": 10}}
},
"layer": [
  {"mark": {"type": "point", "filled": true, "opacity": 1},
   "encoding": {
     "y": {"field": "v", "type": "quantitative", "scale": {"domain": [0.7, 1.0], "nice": false, "zero": false, "rangeMax": 29},
           "axis": {"values": [0.7,0.8,0.9,1.0], "format": ".1f", "labelFontSize": 18, "tickSize": 7, "labelPadding": 4, "title": "(during the 2 hours post dose)", "titleFont": "Liberation Sans", "titleFontWeight": "normal", "titleFontSize": 24, "titlePadding": 14}},
     "xOffset": {"field": "lane", "type": "nominal", "scale": {"type": "point", "domain": ["a","b","c","d","e"], "range": [-19, 19], "padding": 0}},
     "color": {"field": "g", "type": "nominal", "scale": {"domain": ["Vehicle", "Risperidone"], "range": ["#000000", "#ff0000"]}, "legend": null},
     "shape": {"field": "g", "type": "nominal", "scale": {"domain": ["Vehicle", "Risperidone"], "range": ["circle", "square"]}, "legend": null},
     "size": {"field": "g", "type": "ordinal", "scale": {"domain": ["Vehicle", "Risperidone"], "range": [170, 130]}, "legend": null}
   }},
  {"mark": {"type": "errorbar", "extent": "stderr", "thickness": 3, "color": "#000", "ticks": {"size": 51}}, "encoding": {"y": {"field": "v", "type": "quantitative", "axis": null}}},
  {"mark": {"type": "tick", "size": 102, "thickness": 3, "color": "#000"}, "encoding": {"y": {"aggregate": "mean", "field": "v", "type": "quantitative", "axis": null}}},
  {"data": {"values": [{"g": "Risperidone", "label": "**p=0.009"}]}, "mark": {"type": "text", "font": "Liberation Sans", "fontSize": 26, "color": "#222", "dx": -5}, "encoding": {"y": {"datum": 0.863, "axis": null}, "text": {"field": "label"}}},
  {"mark": {"type": "tick", "opacity": 0}, "encoding": {"y": {"field": "v", "type": "quantitative", "axis": {"orient": "left", "title": "Average Respiratory Quotient", "labels": false, "ticks": false, "domain": false, "titleFont": "Liberation Sans", "titleFontWeight": "bold", "titleFontSize": 24, "titlePadding": 84}}}}
],
"resolve": {"axis": {"y": "independent"}}
}
]
}
